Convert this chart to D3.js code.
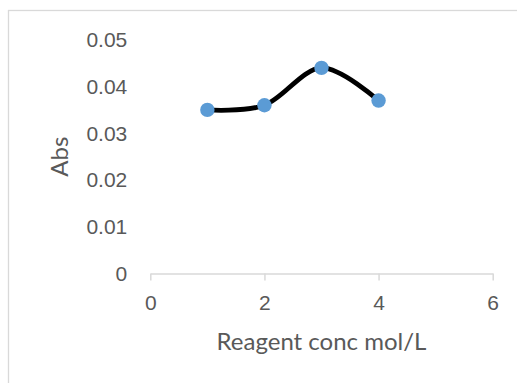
<!DOCTYPE html>
<html lang="en">
<head>
    <meta charset="UTF-8">
    <title>Abs vs Reagent conc</title>
    <script src="https://d3js.org/d3.v7.min.js"></script>
    <style>
        body { margin: 0; background: #fff; }
        svg { display: block; font-family: Lato, "Open Sans", sans-serif; }
        .tick text { fill: #595959; }
        .axis-title { fill: #595959; }
    </style>
</head>
<body>
    <svg id="chart"></svg>

    <script>
        // data
        const concValues = [1, 2, 3, 4];
        const absValues = [0.035, 0.036, 0.044, 0.037];
        const xTicks = [0, 2, 4, 6];
        const yTicks = [0, 0.01, 0.02, 0.03, 0.04, 0.05];

        const width = 517;
        const height = 383;
        const svg = d3.select("#chart").attr("width", width).attr("height", height);

        // chart area border (runs off the right and bottom edges)
        svg.append("rect")
            .attr("x", 8.5).attr("y", 10.5)
            .attr("width", 600).attr("height", 500)
            .attr("fill", "#fff")
            .attr("stroke", "#d9d9d9")
            .attr("stroke-width", 1.3);

        const x = d3.scaleLinear().domain([0, 6]).range([150.3, 492.7]);
        const y = d3.scaleLinear().domain([0, 0.05]).range([273.5, 39.8]);

        // x axis
        const xAxis = svg.append("g")
            .attr("transform", `translate(0,${y(0)})`)
            .call(d3.axisBottom(x).tickValues(xTicks).tickFormat(d3.format("d"))
                .tickSize(7).tickPadding(15).tickSizeOuter(0));
        xAxis.select(".domain").attr("stroke", "#d9d9d9").attr("stroke-width", 1.5);
        xAxis.selectAll(".tick line").attr("stroke", "#d9d9d9").attr("stroke-width", 1.5);
        xAxis.selectAll(".tick text").style("font-size", "21px");

        // y axis: labels only
        const yAxis = svg.append("g")
            .attr("transform", `translate(${x(0)},0)`)
            .call(d3.axisLeft(y).tickValues(yTicks).tickSize(0).tickPadding(23)
                .tickFormat(d => d === 0 ? "0" : d3.format(".2f")(d)));
        yAxis.select(".domain").remove();
        yAxis.selectAll(".tick text").style("font-size", "21px");

        // smooth line like Excel's smoothed scatter
        const line = d3.line()
            .x((d, i) => x(concValues[i]))
            .y(d => y(d))
            .curve(d3.curveCardinal.tension(0));

        svg.append("path")
            .datum(absValues)
            .attr("d", line)
            .attr("fill", "none")
            .attr("stroke", "#000")
            .attr("stroke-width", 4.8);

        svg.append("g")
            .selectAll("circle")
            .data(absValues)
            .enter().append("circle")
            .attr("cx", (d, i) => x(concValues[i]))
            .attr("cy", d => y(d))
            .attr("r", 7.2)
            .attr("fill", "#5b9bd5");

        // axis titles
        svg.append("text")
            .attr("class", "axis-title")
            .attr("x", (x(0) + x(6)) / 2)
            .attr("y", 350)
            .attr("text-anchor", "middle")
            .style("font-size", "24px")
            .text("Reagent conc mol/L");

        svg.append("text")
            .attr("class", "axis-title")
            .attr("transform", `translate(68,${(y(0) + y(0.05)) / 2}) rotate(-90)`)
            .attr("text-anchor", "middle")
            .style("font-size", "24px")
            .text("Abs");
    </script>
</body>
</html>
